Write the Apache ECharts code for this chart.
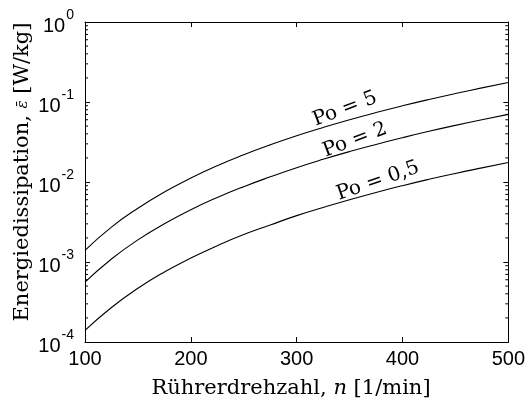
<!DOCTYPE html>
<html><head><meta charset="utf-8">
<script src="https://cdn.jsdelivr.net/npm/echarts@6/dist/echarts.min.js"></script>
<style>html,body{margin:0;padding:0;background:#fff}#c{width:528px;height:403px}</style>
</head><body><div id="c"></div>
<script>
const speeds = [100,125,150,175,200,225,250,275,300,325,350,375,400,425,450,475,500];
const po5   = [1.4e-3,2.73e-3,4.7e-3,7.5e-3,1.12e-2,1.6e-2,2.19e-2,2.91e-2,3.78e-2,4.8e-2,6.0e-2,7.38e-2,8.96e-2,0.1075,0.1276,0.15,0.175];
const po2   = [5.6e-4,1.09e-3,1.89e-3,3.0e-3,4.5e-3,6.4e-3,8.75e-3,1.16e-2,1.51e-2,1.92e-2,2.4e-2,2.95e-2,3.58e-2,4.3e-2,5.1e-2,6.0e-2,7.0e-2];
const po05  = [1.4e-4,2.7e-4,4.7e-4,7.5e-4,1.12e-3,1.6e-3,2.2e-3,2.9e-3,3.8e-3,4.8e-3,6.0e-3,7.4e-3,9.0e-3,1.08e-2,1.28e-2,1.5e-2,1.75e-2];
const seriesNames = ['Po = 5','Po = 2','Po = 0,5'];
const yExponents = {'0.0001':'-4','0.001':'-3','0.01':'-2','0.1':'-1','1':'0'};
const minorTickValues = [];
[1e-4,1e-3,1e-2,1e-1].forEach(d=>{for(let k=2;k<=9;k++) minorTickValues.push(+(d*k).toPrecision(3));});

const chart = echarts.init(document.getElementById('c'), null, {renderer:'canvas'});
const serif = 'DejaVu Serif';
const sans = 'Liberation Sans';
function pairs(arr){return speeds.map((s,i)=>[s,arr[i]]);}
const lineStyle = {color:'#000', width:1.1};
const axisCommon = {
  axisLine:{show:true,lineStyle:{color:'#000',width:1}},
  axisTick:{show:true,inside:true,length:5,lineStyle:{color:'#000'}},
  splitLine:{show:false}
};
chart.setOption({
  animation:false,
  backgroundColor:'#fff',
  grid:{left:85,right:17,top:22,bottom:61},
  xAxis:[
    Object.assign({type:'value',min:100,max:500,interval:100,position:'bottom',
      axisLabel:{color:'#000',fontFamily:sans,fontSize:20,margin:7}}, axisCommon),
    Object.assign({type:'value',min:100,max:500,interval:100,position:'top',
      axisLabel:{show:false}}, axisCommon)
  ],
  yAxis:[
    Object.assign({type:'log',min:1e-4,max:1,logBase:10,position:'left',
      axisLabel:{margin:11,formatter:function(v){const e=yExponents[String(+v.toPrecision(3))]; return '{b|10}{s|'+e+'}';},
        rich:{b:{fontFamily:sans,fontSize:20,color:'#000',lineHeight:28,verticalAlign:'bottom'},
              s:{fontFamily:sans,fontSize:14,color:'#000',lineHeight:28,verticalAlign:'top',padding:[0,0,8,1]}}}}, axisCommon),
    Object.assign({type:'log',min:1e-4,max:1,logBase:10,position:'right',
      axisLabel:{show:false}}, axisCommon)
  ],
  graphic:[
    {type:'text',x:291,y:389,style:{text:'{a|Rührerdrehzahl, }{i|n}{a| [1/min]}',align:'center',verticalAlign:'middle',
      rich:{a:{fontFamily:serif,fontSize:21,fill:'#000'},i:{fontFamily:serif,fontSize:21,fontStyle:'italic',fill:'#000'}}}},
    {type:'text',x:23,y:172,rotation:Math.PI/2,style:{text:'{a|Energiedissipation, }{i|ε\u0304}{a| [W/kg]}',align:'center',verticalAlign:'middle',
      rich:{a:{fontFamily:serif,fontSize:21,fill:'#000'},i:{fontFamily:serif,fontSize:15,fontStyle:'italic',fill:'#000'}}}},
    {type:'text',x:345,y:109,rotation:0.36,style:{text:seriesNames[0],fontFamily:serif,fontSize:20,fill:'#000',align:'center',verticalAlign:'middle'}},
    {type:'text',x:355,y:140,rotation:0.36,style:{text:seriesNames[1],fontFamily:serif,fontSize:20,fill:'#000',align:'center',verticalAlign:'middle'}},
    {type:'text',x:378,y:181,rotation:0.33,style:{text:seriesNames[2],fontFamily:serif,fontSize:20,fill:'#000',align:'center',verticalAlign:'middle'}}
  ],
  series:[
    {type:'line',name:seriesNames[0],data:pairs(po5),smooth:true,symbol:'none',lineStyle},
    {type:'line',name:seriesNames[1],data:pairs(po2),smooth:true,symbol:'none',lineStyle},
    {type:'line',name:seriesNames[2],data:pairs(po05),smooth:true,symbol:'none',lineStyle},
    {type:'custom',name:'minorTicks',silent:true,data:minorTickValues.map(v=>[100,v]),
      renderItem:function(params,api){
        const yv=api.value(1);
        const pl=api.coord([100,yv]); const pr=api.coord([500,yv]);
        return {type:'group',children:[
          {type:'line',shape:{x1:pl[0],y1:pl[1],x2:pl[0]+3,y2:pl[1]},style:{stroke:'#000',lineWidth:1}},
          {type:'line',shape:{x1:pr[0],y1:pr[1],x2:pr[0]-3,y2:pr[1]},style:{stroke:'#000',lineWidth:1}}
        ]};
      }}
  ]
});
</script></body></html>
